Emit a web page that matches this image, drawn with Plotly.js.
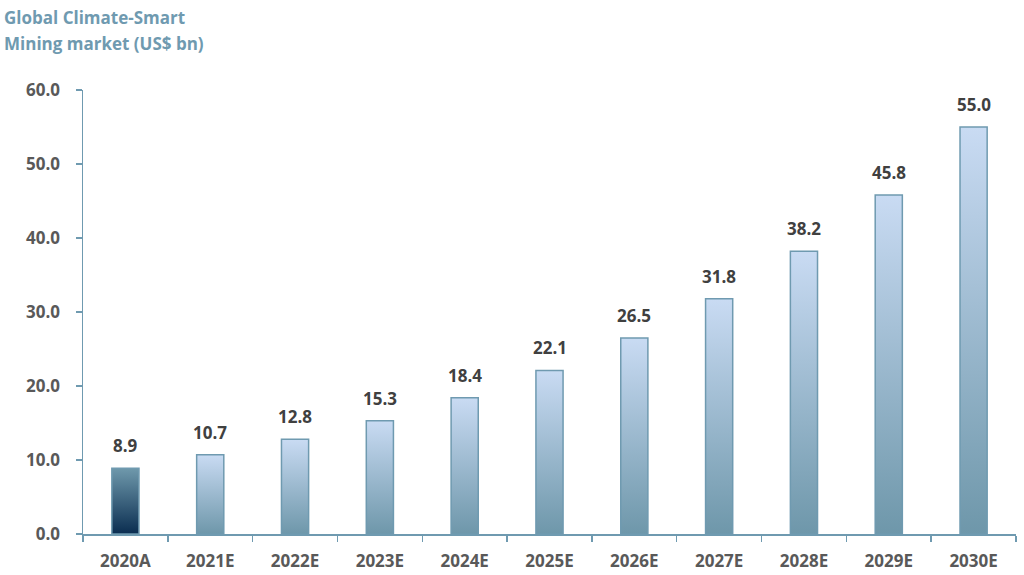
<!DOCTYPE html>
<html>
<head>
<meta charset="utf-8">
<script src="https://cdn.plot.ly/plotly-3.0.1.min.js"></script>
<style>
  html, body { margin: 0; padding: 0; background: #ffffff; }
  #figure { width: 1024px; height: 575px; }
</style>
</head>
<body>
<div id="figure"></div>
<script>
FIGURE = document.getElementById('figure')

// values
let years = ['2020A', '2021E', '2022E', '2023E', '2024E', '2025E', '2026E', '2027E', '2028E', '2029E', '2030E']
let marketSize = [8.9, 10.7, 12.8, 15.3, 18.4, 22.1, 26.5, 31.8, 38.2, 45.8, 55.0]
let yTicks = [0, 10, 20, 30, 40, 50, 60]
let titleLines = ['Global Climate-Smart', 'Mining market (US$ bn)']

const AXIS_COLOR = '#6f9ab0'
const LABEL_COLOR = '#595959'
const FONT = '"Open Sans", "Noto Sans", sans-serif'

let trace = {
    type: 'bar',
    x: years,
    y: marketSize,
    marker: {
        color: '#b4cbe0',
        line: {color: AXIS_COLOR, width: 1.5}
    },
    hoverinfo: 'none'
}

// value labels sit a bit above each bar, as in the reference
let valueLabels = years.map((yr, i) => ({
    x: yr, y: marketSize[i],
    xref: 'x', yref: 'y',
    text: marketSize[i].toFixed(1),
    showarrow: false,
    yanchor: 'bottom',
    yshift: 9,
    font: {family: FONT, size: 17, color: '#404040', weight: 'bold'}
}))

let titleLabels = titleLines.map((t, i) => ({
    text: t,
    xref: 'paper', yref: 'paper',
    x: -81 / 933, y: 1 + (73 - i * 26) / 445,
    xanchor: 'left', yanchor: 'middle',
    showarrow: false,
    font: {family: FONT, size: 17, color: AXIS_COLOR, weight: 'bold'}
}))

let layout = {
    width: 1024,
    height: 575,
    margin: {l: 83, r: 8, t: 90, b: 41},
    paper_bgcolor: '#ffffff',
    plot_bgcolor: '#ffffff',
    bargap: 0.68,
    showlegend: false,
    font: {family: FONT, color: LABEL_COLOR},
    annotations: titleLabels.concat(valueLabels),
    xaxis: {
        type: 'category',
        showline: true,
        linecolor: AXIS_COLOR,
        linewidth: 1.5,
        ticks: 'outside',
        tickson: 'boundaries',
        ticklen: 6,
        tickcolor: AXIS_COLOR,
        tickwidth: 1.5,
        showgrid: false,
        ticklabelstandoff: 11,
        tickfont: {family: FONT, size: 17, color: LABEL_COLOR, weight: 'bold'}
    },
    yaxis: {
        range: [0, 60],
        tickvals: yTicks,
        ticktext: yTicks.map(v => v.toFixed(1)),
        showline: true,
        linecolor: AXIS_COLOR,
        linewidth: 1.5,
        ticks: 'outside',
        ticklen: 6,
        tickcolor: AXIS_COLOR,
        tickwidth: 1.5,
        showgrid: false,
        zeroline: false,
        ticklabelstandoff: 12,
        tickfont: {family: FONT, size: 17, color: LABEL_COLOR, weight: 'bold'}
    }
}

function addGradient(svg, id, top, bottom) {
    let ns = 'http://www.w3.org/2000/svg'
    let defs = svg.querySelector('defs')
    let grad = document.createElementNS(ns, 'linearGradient')
    grad.setAttribute('id', id)
    grad.setAttribute('x1', '0'); grad.setAttribute('y1', '0')
    grad.setAttribute('x2', '0'); grad.setAttribute('y2', '1')
    let s1 = document.createElementNS(ns, 'stop')
    s1.setAttribute('offset', '0'); s1.setAttribute('stop-color', top)
    let s2 = document.createElementNS(ns, 'stop')
    s2.setAttribute('offset', '1'); s2.setAttribute('stop-color', bottom)
    grad.appendChild(s1); grad.appendChild(s2)
    defs.appendChild(grad)
}

Plotly.newPlot(FIGURE, [trace], layout, {staticPlot: true}).then(() => {
    let svg = FIGURE.querySelector('svg.main-svg')
    addGradient(svg, 'gradActual', '#6f99ac', '#0a2d50')
    addGradient(svg, 'gradEstimate', '#c9dbf3', '#6e97aa')
    let bars = FIGURE.querySelectorAll('.bars .point path')
    bars.forEach((p, i) => {
        p.style.fill = i === 0 ? 'url(#gradActual)' : 'url(#gradEstimate)'
    })
})
</script>
</body>
</html>
